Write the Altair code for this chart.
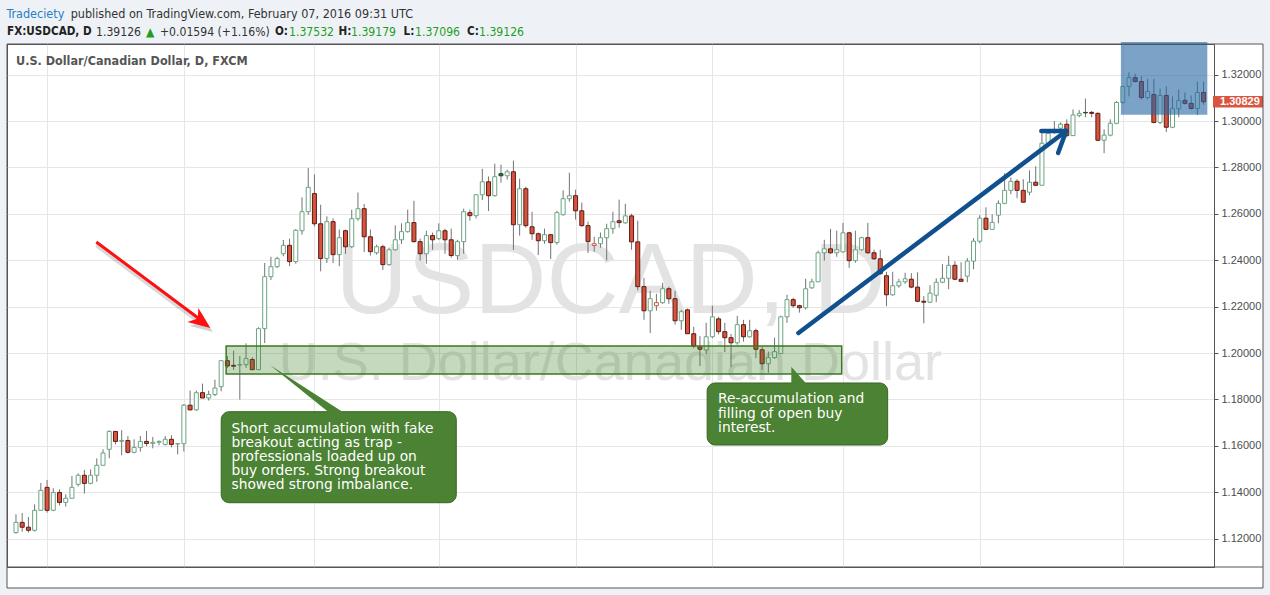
import altair as alt
import pandas as pd

# ---------------- data ----------------
opens = [
    1.1226, 1.1270, 1.1249, 1.1236, 1.1322, 1.1421, 1.1322, 1.1399, 1.1356, 1.1374,
    1.1434, 1.1473, 1.1438, 1.1473, 1.1516, 1.1585, 1.1662, 1.1619, 1.1623, 1.1572,
    1.1593, 1.1619, 1.1610, 1.1615, 1.1606, 1.1628, 1.1608, 1.1609, 1.1775, 1.1755,
    1.1829, 1.1806, 1.1821, 1.1855, 1.1967, 1.1947, 1.1948, 1.1950, 1.1972, 1.1928,
    1.2105, 1.2329, 1.2372, 1.2428, 1.2464, 1.2394, 1.2527, 1.2609, 1.2687, 1.2557,
    1.2407, 1.2566, 1.2424, 1.2527, 1.2458, 1.2579, 1.2622, 1.2501, 1.2432, 1.2458,
    1.2381, 1.2445, 1.2488, 1.2523, 1.2562, 1.2480, 1.2428, 1.2506, 1.2493, 1.2527,
    1.2488, 1.2420, 1.2480, 1.2605, 1.2592, 1.2682, 1.2738, 1.2678, 1.2773, 1.2764,
    1.2781, 1.2553, 1.2708, 1.2544, 1.2514, 1.2484, 1.2510, 1.2476, 1.2596, 1.2665,
    1.2678, 1.2613, 1.2549, 1.2463, 1.2471, 1.2497, 1.2536, 1.2570, 1.2561, 1.2591,
    1.2479, 1.2286, 1.2182, 1.2204, 1.2217, 1.2277, 1.2234, 1.2139, 1.2186, 1.2083,
    1.2026, 1.2013, 1.2070, 1.2147, 1.2092, 1.2066, 1.2044, 1.2122, 1.2070, 1.2096,
    1.2014, 1.1954, 1.1980, 1.1997, 1.2156, 1.2230, 1.2204, 1.2195, 1.2281, 1.2307,
    1.2432, 1.2449, 1.2432, 1.2436, 1.2518, 1.2398, 1.2445, 1.2497, 1.2432, 1.2406,
    1.2333, 1.2251, 1.2290, 1.2307, 1.2318, 1.2284, 1.2223, 1.2219, 1.2249, 1.2305,
    1.2322, 1.2378, 1.2318, 1.2331, 1.2396, 1.2482, 1.2581, 1.2533, 1.2594, 1.2645,
    1.2701, 1.2740, 1.2701, 1.2693, 1.2736, 1.2723, 1.2904, 1.2950, 1.2969, 1.2986,
    1.2937, 1.3024, 1.3037, 1.3037, 1.3033, 1.2917, 1.2939, 1.2990, 1.3080, 1.3149,
    1.3187, 1.3170, 1.3101, 1.3114, 1.2994, 1.3110, 1.2973, 1.3053, 1.3089, 1.3076,
    1.3054, 1.3123,
]
highs = [
    1.1305, 1.1310, 1.1293, 1.1348, 1.1440, 1.1453, 1.1417, 1.1412, 1.1391, 1.1470,
    1.1481, 1.1496, 1.1498, 1.1546, 1.1585, 1.1667, 1.1662, 1.1667, 1.1642, 1.1628,
    1.1642, 1.1664, 1.1638, 1.1623, 1.1642, 1.1646, 1.1610, 1.1780, 1.1838, 1.1838,
    1.1868, 1.1838, 1.1885, 1.1967, 1.1987, 1.2010, 1.1987, 1.2042, 1.1982, 1.2111,
    1.2388, 1.2415, 1.2415, 1.2487, 1.2493, 1.2534, 1.2671, 1.2797, 1.2770, 1.2639,
    1.2589, 1.2580, 1.2532, 1.2532, 1.2618, 1.2692, 1.2642, 1.2532, 1.2467, 1.2467,
    1.2454, 1.2550, 1.2559, 1.2618, 1.2656, 1.2493, 1.2527, 1.2519, 1.2559, 1.2536,
    1.2536, 1.2488, 1.2622, 1.2618, 1.2684, 1.2794, 1.2761, 1.2816, 1.2812, 1.2790,
    1.2829, 1.2751, 1.2717, 1.2609, 1.2519, 1.2536, 1.2510, 1.2613, 1.2701, 1.2777,
    1.2704, 1.2648, 1.2566, 1.2501, 1.2519, 1.2557, 1.2609, 1.2661, 1.2643, 1.2600,
    1.2570, 1.2324, 1.2268, 1.2255, 1.2303, 1.2286, 1.2268, 1.2186, 1.2191, 1.2113,
    1.2073, 1.2130, 1.2204, 1.2156, 1.2130, 1.2082, 1.2160, 1.2143, 1.2143, 1.2105,
    1.2027, 1.2006, 1.2066, 1.2161, 1.2251, 1.2238, 1.2208, 1.2320, 1.2320, 1.2441,
    1.2488, 1.2535, 1.2527, 1.2561, 1.2522, 1.2527, 1.2501, 1.2561, 1.2445, 1.2445,
    1.2350, 1.2350, 1.2320, 1.2346, 1.2344, 1.2348, 1.2245, 1.2292, 1.2322, 1.2383,
    1.2419, 1.2396, 1.2391, 1.2409, 1.2495, 1.2594, 1.2628, 1.2598, 1.2658, 1.2775,
    1.2757, 1.2749, 1.2749, 1.2787, 1.2805, 1.2955, 1.2960, 1.3000, 1.2994, 1.3007,
    1.3050, 1.3047, 1.3097, 1.3043, 1.3037, 1.2964, 1.3007, 1.3086, 1.3149, 1.3210,
    1.3204, 1.3193, 1.3181, 1.3181, 1.3140, 1.3149, 1.3106, 1.3136, 1.3123, 1.3110,
    1.3170, 1.3170,
]
lows = [
    1.1221, 1.1230, 1.1226, 1.1230, 1.1322, 1.1312, 1.1318, 1.1343, 1.1338, 1.1374,
    1.1425, 1.1394, 1.1434, 1.1445, 1.1516, 1.1546, 1.1606, 1.1559, 1.1567, 1.1567,
    1.1575, 1.1598, 1.1589, 1.1602, 1.1602, 1.1593, 1.1563, 1.1575, 1.1752, 1.1750,
    1.1806, 1.1795, 1.1814, 1.1835, 1.1936, 1.1927, 1.1799, 1.1936, 1.1928, 1.1928,
    1.2043, 1.2315, 1.2366, 1.2417, 1.2375, 1.2385, 1.2510, 1.2596, 1.2545, 1.2352,
    1.2388, 1.2388, 1.2374, 1.2427, 1.2453, 1.2570, 1.2435, 1.2420, 1.2424, 1.2358,
    1.2376, 1.2441, 1.2470, 1.2519, 1.2476, 1.2398, 1.2385, 1.2445, 1.2488, 1.2428,
    1.2411, 1.2402, 1.2428, 1.2570, 1.2580, 1.2659, 1.2612, 1.2674, 1.2734, 1.2747,
    1.2444, 1.2506, 1.2540, 1.2488, 1.2422, 1.2471, 1.2405, 1.2467, 1.2592, 1.2652,
    1.2575, 1.2544, 1.2431, 1.2437, 1.2454, 1.2398, 1.2514, 1.2540, 1.2557, 1.2445,
    1.2270, 1.2143, 1.2086, 1.2182, 1.2212, 1.2212, 1.2122, 1.2100, 1.2083, 1.2020,
    1.1944, 1.1995, 1.2064, 1.2080, 1.2004, 1.1939, 1.2036, 1.2049, 1.2066, 1.1978,
    1.1928, 1.1915, 1.1975, 1.1997, 1.2130, 1.2195, 1.2174, 1.2187, 1.2277, 1.2307,
    1.2398, 1.2428, 1.2415, 1.2432, 1.2367, 1.2389, 1.2441, 1.2428, 1.2402, 1.2337,
    1.2202, 1.2247, 1.2281, 1.2298, 1.2279, 1.2219, 1.2128, 1.2215, 1.2219, 1.2301,
    1.2275, 1.2314, 1.2309, 1.2305, 1.2361, 1.2473, 1.2533, 1.2533, 1.2559, 1.2641,
    1.2684, 1.2667, 1.2650, 1.2680, 1.2719, 1.2723, 1.2895, 1.2945, 1.2964, 1.2930,
    1.2937, 1.3016, 1.3016, 1.3016, 1.2913, 1.2861, 1.2934, 1.2986, 1.3075, 1.3106,
    1.3166, 1.3093, 1.3093, 1.2990, 1.2986, 1.2952, 1.2969, 1.3016, 1.3071, 1.3050,
    1.3026, 1.3070,
]
closes = [
    1.1270, 1.1249, 1.1236, 1.1322, 1.1408, 1.1322, 1.1399, 1.1356, 1.1374, 1.1421,
    1.1473, 1.1438, 1.1473, 1.1516, 1.1569, 1.1662, 1.1619, 1.1623, 1.1572, 1.1593,
    1.1619, 1.1610, 1.1615, 1.1619, 1.1628, 1.1606, 1.1609, 1.1775, 1.1755, 1.1829,
    1.1806, 1.1821, 1.1849, 1.1967, 1.1944, 1.1943, 1.1950, 1.1976, 1.1928, 1.2105,
    1.2329, 1.2372, 1.2407, 1.2464, 1.2394, 1.2529, 1.2609, 1.2714, 1.2557, 1.2407,
    1.2566, 1.2424, 1.2497, 1.2458, 1.2579, 1.2622, 1.2501, 1.2437, 1.2458, 1.2381,
    1.2445, 1.2488, 1.2523, 1.2562, 1.2480, 1.2428, 1.2506, 1.2488, 1.2527, 1.2488,
    1.2420, 1.2480, 1.2609, 1.2592, 1.2682, 1.2738, 1.2678, 1.2760, 1.2764, 1.2781,
    1.2553, 1.2708, 1.2549, 1.2514, 1.2484, 1.2510, 1.2476, 1.2605, 1.2665, 1.2678,
    1.2613, 1.2549, 1.2480, 1.2471, 1.2497, 1.2536, 1.2566, 1.2562, 1.2591, 1.2479,
    1.2286, 1.2182, 1.2234, 1.2217, 1.2277, 1.2234, 1.2139, 1.2178, 1.2083, 1.2030,
    1.2016, 1.2070, 1.2156, 1.2092, 1.2066, 1.2044, 1.2122, 1.2070, 1.2096, 1.2016,
    1.1954, 1.1980, 1.2006, 1.2156, 1.2230, 1.2204, 1.2195, 1.2277, 1.2307, 1.2432,
    1.2449, 1.2432, 1.2445, 1.2518, 1.2398, 1.2445, 1.2497, 1.2432, 1.2406, 1.2342,
    1.2251, 1.2290, 1.2307, 1.2320, 1.2284, 1.2223, 1.2219, 1.2258, 1.2305, 1.2322,
    1.2378, 1.2318, 1.2309, 1.2396, 1.2482, 1.2581, 1.2533, 1.2563, 1.2645, 1.2701,
    1.2740, 1.2701, 1.2650, 1.2736, 1.2723, 1.2904, 1.2947, 1.2964, 1.2986, 1.2937,
    1.3026, 1.3033, 1.3035, 1.3033, 1.2917, 1.2939, 1.2990, 1.3080, 1.3149, 1.3187,
    1.3170, 1.3101, 1.3127, 1.2994, 1.3110, 1.2973, 1.3053, 1.3089, 1.3076, 1.3054,
    1.3123, 1.30829,
]
month_start_idx = [5, 27, 48, 68, 90, 112, 133, 155, 178]
price_ticks = [1.12, 1.14, 1.16, 1.18, 1.20, 1.22, 1.24, 1.26, 1.28, 1.30, 1.32]
last_close_label = "1.30829"

header1_text = ["Tradeciety", "published on TradingView.com, February 07, 2016 09:31 UTC"]
header2_bold = ["FX:USDCAD, D", "O:", "H:", "L:", "C:"]
header2_norm = ["1.39126", "▲", "+0.01594 (+1.16%)", "1.37532", "1.39179", "1.37096", "1.39126"]
inner_title = "U.S. Dollar/Canadian Dollar, D, FXCM"
watermark_big = "USDCAD, D"
watermark_small = "U.S. Dollar/Canadian Dollar"
callout1_lines = ["Short accumulation with fake", "breakout acting as trap -",
                  "professionals loaded up on", "buy orders. Strong breakout",
                  "showed strong imbalance."]
callout2_lines = ["Re-accumulation and", "filling of open buy", "interest."]

# annotation geometry in chart coordinates (bar index, price)
accum_box = dict(i1=33.8, i2=132.8, p1=1.19095, p2=1.20302)
blue_box = dict(i1=177.7, i2=191.6, p1=1.30272, p2=1.3340)
red_arrow = dict(i1=12.92, p1=1.24784, i2=29.51, p2=1.21466, ti=31.26, tp=1.21078)
blue_arrow = [dict(i1=125.84, p1=1.20862, i2=168.9, p2=1.29569),
              dict(i1=168.9, p1=1.29569, i2=164.9, p2=1.29569),
              dict(i1=168.9, p1=1.29569, i2=167.6, p2=1.28621)]
callout1_box = dict(i1=33.01, i2=70.81, p1=1.13547, p2=1.17470)
callout1_tip = dict(i=40.83, p=1.19483)
callout1_text_pos = dict(i=34.66, p=[1.16711, 1.16108, 1.15504, 1.14901, 1.14297])
callout2_box = dict(i1=111.16, i2=140.19, p1=1.16034, p2=1.18707)
callout2_tip = dict(i=124.69, p=1.19409)
callout2_text_pos = dict(i=112.92, p=[1.18017, 1.17371, 1.16767])
watermark_pos = dict(i=95.6, p_big=1.21724, p_small=1.18836)

# ---------------- derived table ----------------
n = len(opens)
prev_close = [opens[0]] + closes[:-1]
styles = []
for o, c, pc in zip(opens, closes, prev_close):
    body = "hollow" if c > o else "filled"
    direction = "up" if c >= pc else "down"
    styles.append(body + "-" + direction)
candles = pd.DataFrame({"i": list(range(n)), "o": opens, "h": highs,
                        "l": lows, "c": closes, "s": styles})

sx = alt.Scale(domain=[-0.64, 191.87], nice=False, zero=False)
sy = alt.Scale(domain=[1.10776, 1.33319], nice=False, zero=False)
GRID = "#e6e6e6"
FRAME = "#555555"
BG = "#eef2f6"
GREEN_TXT = "#1f9e1f"

AX = alt.Axis(values=month_start_idx, labels=False, ticks=False, domain=False,
              grid=True, gridColor=GRID, title=None)
AY = alt.Axis(orient="right", values=price_ticks, format=".5f",
              labelFont="Liberation Sans", labelFontSize=11, labelColor="#4d4d4d",
              tickColor=FRAME, tickSize=4, domain=True, domainColor=FRAME, grid=True,
              gridColor=GRID, labelPadding=3, title=None)

def XQ(f):
    return alt.X(f, scale=sx, axis=AX)

def YQ(f):
    return alt.Y(f, scale=sy, axis=AY)

style_dom = ["hollow-up", "hollow-down", "filled-up", "filled-down"]
fill_rng = ["#ffffff", "#ffffff", "#2f6a46", "#d6533e"]
stroke_rng = ["#6ba583", "#d6533e", "#1e4a30", "#5e1a12"]

one = pd.DataFrame({"k": [0]})

# background bands (pixel coordinates relative to the plot origin)
bands = pd.DataFrame({
    "x": [-7, -7, 1256, -7], "x2": [1263, 0, 1263, 1263],
    "y": [-44, -44, -44, 544], "y2": [0, 551, 551, 551]})
bands_layer = alt.Chart(bands).mark_rect(color=BG).encode(
    x=alt.X("x:Q", scale=None, axis=None), x2="x2:Q",
    y=alt.Y("y:Q", scale=None, axis=None), y2="y2:Q")

# watermarks
wm = pd.DataFrame({"i": [watermark_pos["i"]], "p": [watermark_pos["p_big"]], "t": [watermark_big]})
wm2 = pd.DataFrame({"i": [watermark_pos["i"]], "p": [watermark_pos["p_small"]], "t": [watermark_small]})
wm_layer = alt.Chart(wm).mark_text(align="center", baseline="alphabetic", font="Liberation Sans",
                                    fontSize=100, color="#e3e3e3").encode(
    x=XQ("i:Q"), y=YQ("p:Q"), text="t:N")
wm2_layer = alt.Chart(wm2).mark_text(align="center", baseline="alphabetic", font="Liberation Sans",
                                      fontSize=54, color="#e3e3e3").encode(
    x=XQ("i:Q"), y=YQ("p:Q"), text="t:N")

# candles
wicks = alt.Chart(candles).mark_rule(color="#737375", strokeWidth=1).encode(
    x=XQ("i:Q"), y=YQ("l:Q"), y2="h:Q")
bodies = alt.Chart(candles).mark_bar(size=4, strokeWidth=1).encode(
    x=XQ("i:Q"), y=YQ("o:Q"), y2="c:Q",
    fill=alt.Fill("s:N", scale=alt.Scale(domain=style_dom, range=fill_rng), legend=None),
    stroke=alt.Stroke("s:N", scale=alt.Scale(domain=style_dom, range=stroke_rng), legend=None))

def box_layer(b, **kw):
    d = pd.DataFrame([b])
    return alt.Chart(d).mark_rect(**kw).encode(
        x=XQ("i1:Q"), x2="i2:Q", y=YQ("p1:Q"), y2="p2:Q")

accum_layer = box_layer(accum_box, fill="#3f822b", fillOpacity=0.3, stroke="#3a7a1e", strokeWidth=1.5)
blue_layer = box_layer(blue_box, fill="#2366a3", fillOpacity=0.6)

# red arrow with soft shadow
ra = red_arrow
shadow_df = pd.DataFrame([dict(i1=ra["i1"] + 0.4, p1=ra["p1"] - 0.0017,
                               i2=ra["i2"] + 0.4, p2=ra["p2"] - 0.0017)])
shadow_layer = alt.Chart(shadow_df).mark_rule(color="#000000", opacity=0.15, strokeWidth=6,
                                               strokeCap="round").encode(
    x=XQ("i1:Q"), x2="i2:Q", y=YQ("p1:Q"), y2="p2:Q")
shaft_df = pd.DataFrame([dict(i1=ra["i1"], p1=ra["p1"], i2=ra["i2"], p2=ra["p2"])])
shaft_layer = alt.Chart(shaft_df).mark_rule(color="#ff1010", strokeWidth=3).encode(
    x=XQ("i1:Q"), x2="i2:Q", y=YQ("p1:Q"), y2="p2:Q")
ARROW_HEAD = "M0,0L-23,-6L-12.5,-9.5L-12,-20Z"
head_shadow_df = pd.DataFrame([dict(i=ra["ti"] + 0.4, p=ra["tp"] - 0.0017)])
head_shadow = alt.Chart(head_shadow_df).mark_point(shape=ARROW_HEAD, size=4, filled=True,
                                                   opacity=0.18, color="#000000").encode(
    x=XQ("i:Q"), y=YQ("p:Q"))
head_df = pd.DataFrame([dict(i=ra["ti"], p=ra["tp"])])
head_layer = alt.Chart(head_df).mark_point(shape=ARROW_HEAD, size=4, filled=True,
                                           opacity=1, color="#ff1010").encode(
    x=XQ("i:Q"), y=YQ("p:Q"))

# blue arrow
ba_df = pd.DataFrame(blue_arrow)
blue_arrow_layer = alt.Chart(ba_df).mark_rule(color="#11508f", strokeWidth=4.5,
                                               strokeCap="round").encode(
    x=XQ("i1:Q"), x2="i2:Q", y=YQ("p1:Q"), y2="p2:Q")

# callouts
CALL_FILL = "#4b8233"
CALL_STROKE = "#37651f"
c1_box = box_layer(callout1_box, fill=CALL_FILL, stroke=CALL_STROKE, strokeWidth=1, cornerRadius=8)
c2_box = box_layer(callout2_box, fill=CALL_FILL, stroke=CALL_STROKE, strokeWidth=1, cornerRadius=8)
c1_ptr = alt.Chart(pd.DataFrame([callout1_tip])).mark_point(
    shape="M0,0L61,49L76,49Z", size=4, filled=True, opacity=1, color=CALL_FILL).encode(
    x=XQ("i:Q"), y=YQ("p:Q"))
c2_ptr = alt.Chart(pd.DataFrame([callout2_tip])).mark_point(
    shape="M0,0L0,18L16,18Z", size=4, filled=True, opacity=1, color=CALL_FILL).encode(
    x=XQ("i:Q"), y=YQ("p:Q"))

def callout_text(lines, pos):
    d = pd.DataFrame({"t": lines, "i": [pos["i"]] * len(lines), "p": pos["p"]})
    return alt.Chart(d).mark_text(align="left", baseline="middle", font="DejaVu Sans",
                                  fontSize=13.8, color="white").encode(
        x=XQ("i:Q"), y=YQ("p:Q"), text="t:N")

c1_txt = callout_text(callout1_lines, callout1_text_pos)
c2_txt = callout_text(callout2_lines, callout2_text_pos)

# last price label on the price axis
lp = pd.DataFrame({"p": [closes[-1]], "p1": [closes[-1] + 0.0025], "p2": [closes[-1] - 0.0025],
                   "t": [last_close_label]})
lp_rect = alt.Chart(lp).mark_rect(color="#d9553f").encode(
    x=alt.value(1206), x2=alt.value(1256), y=YQ("p1:Q"), y2="p2:Q")
lp_txt = alt.Chart(lp).mark_text(align="left", baseline="middle", font="Liberation Sans",
                                 fontSize=11, fontWeight="bold", color="white").encode(
    x=alt.value(1213), y=YQ("p:Q"), text="t:N")

# header texts (pixel coordinates relative to the plot origin)
def px_text(texts, xs, ys, cols, **kw):
    d = pd.DataFrame({"t": texts, "x": xs, "y": ys, "col": cols})
    return alt.Chart(d).mark_text(align="left", baseline="middle", **kw).encode(
        x=alt.X("x:Q", scale=None, axis=None), y=alt.Y("y:Q", scale=None, axis=None),
        text="t:N", color=alt.Color("col:N", scale=None, legend=None))

HFONT = "DejaVu Sans Condensed, DejaVu Sans"
h1 = px_text(header1_text, [-0.6, 63.7], [-30.4, -30.4], ["#2a7fc1", "#333333"],
             font=HFONT, fontSize=12.5)
h2b = px_text(header2_bold, [0, 268, 331.5, 396.5, 460], [-12] * 5, ["#222222"] * 5,
              font=HFONT, fontSize=11.6, fontWeight="bold")
h2n = px_text(header2_norm, [89, 139, 153, 282, 344, 408, 472], [-12] * 7,
              ["#333333", GREEN_TXT, "#333333", GREEN_TXT, GREEN_TXT, GREEN_TXT, GREEN_TXT],
              font=HFONT, fontSize=12.1)
title_in = px_text([inner_title], [9], [17], ["#555555"], font=HFONT, fontSize=12.5,
                   fontWeight="bold")

# frame pieces
frame_df = pd.DataFrame({"x": [0], "x2": [1256], "y": [0], "y2": [544]})
frame = alt.Chart(frame_df).mark_rect(fillOpacity=0, stroke=FRAME, strokeWidth=1).encode(
    x=alt.X("x:Q", scale=None, axis=None), x2="x2:Q",
    y=alt.Y("y:Q", scale=None, axis=None), y2="y2:Q")
bottom_line = alt.Chart(one).mark_rule(color=FRAME, strokeWidth=1).encode(
    x=alt.value(0), x2=alt.value(1256), y=alt.value(523))

chart = alt.layer(
    bands_layer, wm_layer, wm2_layer, wicks, bodies, accum_layer, blue_layer,
    shadow_layer, shaft_layer, head_shadow, head_layer, blue_arrow_layer,
    c1_box, c1_ptr, c1_txt, c2_box, c2_ptr, c2_txt, lp_rect, lp_txt,
    h1, h2b, h2n, title_in, frame, bottom_line
).properties(
    width=1207, height=523,
    padding={"left": 7, "top": 44, "right": 56, "bottom": 28},
    autosize=alt.AutoSizeParams(type="none"),
    background="white",
).configure_view(stroke=FRAME, strokeWidth=1, fill="white")

chart.save("out.html", embed_options={"renderer": "svg", "actions": False})
